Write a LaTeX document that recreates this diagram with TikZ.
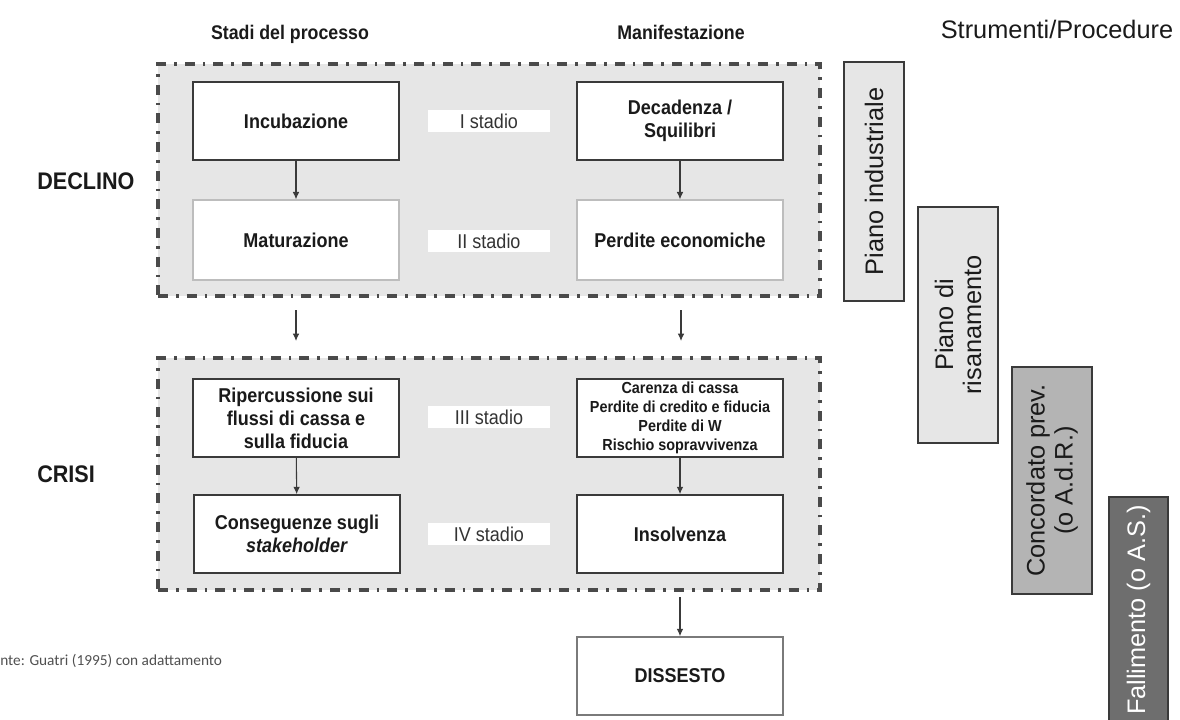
\documentclass[tikz,border=0pt]{standalone}
\usepackage{fontspec}
\setmainfont{Liberation Sans}
\newfontfamily\cond[FakeStretch=0.9]{Liberation Sans}
\newfontfamily\carl{Carlito}
\usetikzlibrary{arrows.meta}
\definecolor{framefill}{HTML}{E6E6E6}
\definecolor{framedraw}{HTML}{4A4A4A}
\definecolor{boxdark}{HTML}{3A3A3A}
\definecolor{boxlight}{HTML}{BDBDBD}
\definecolor{boxmid}{HTML}{7A7A7A}
\definecolor{txt}{HTML}{1A1A1A}
\definecolor{stagetxt}{HTML}{333333}
\definecolor{lightfill}{HTML}{E6E6E6}
\definecolor{midfill}{HTML}{B4B4B4}
\definecolor{darkfill}{HTML}{6E6E6E}
\definecolor{notetxt}{HTML}{505050}
\def\pxu{0.75pt}
\tikzset{
  frame/.style={draw=framedraw, fill=framefill, line width=2.3pt,
    dash pattern=on 7.5pt off 6pt on 2pt off 6pt,
    minimum width=662*\pxu, minimum height=232*\pxu, inner sep=0pt},
  stagebox/.style={draw=boxdark, fill=white, line width=1.3pt, text=txt,
    minimum width=206*\pxu, minimum height=78*\pxu, align=center,
    font=\cond\fontsize{15}{17.25}\selectfont\bfseries, inner sep=1pt},
  lightbox/.style={stagebox, draw=boxlight, line width=1pt},
  midbox/.style={stagebox, draw=boxmid, line width=1.2pt},
  stagelabel/.style={fill=white, text=stagetxt, minimum width=122*\pxu,
    minimum height=22*\pxu, inner sep=0pt, font=\cond\fontsize{15}{17}\selectfont},
  header/.style={text=txt, anchor=base, font=\cond\fontsize{14.8}{17}\selectfont\bfseries},
  phase/.style={text=txt, anchor=base west, inner sep=0pt, font=\cond\fontsize{18}{21}\selectfont\bfseries},
  arr/.style={draw=boxdark, line width=0.8pt, -{Latex[length=5.5pt,width=5pt]}},
  tool/.style={draw=boxdark, line width=1.4pt, rotate=90, align=center, text=txt,
    font=\fontsize{19}{21}\selectfont, inner sep=0pt}
}
\begin{document}
\begin{tikzpicture}[x=0.75pt,y=-0.75pt]
\useasboundingbox (0,0) rectangle (1180,720);

% headers
\node[header] (h1) at (290,39.5) {Stadi del processo};
\node[header] (h2) at (681,39.5) {Manifestazione};
\node[text=txt, anchor=base, font=\fontsize{19}{21}\selectfont] (h3) at (1057,39) {Strumenti/Procedure};

% phases
\node[phase] (declino) at (37,190) {DECLINO};
\node[phase] (crisi) at (37,482) {CRISI};

% frames
\node[frame] (f1) at (489,180) {};
\node[frame] (f2) at (489,474) {};

% stage I-II
\node[stagebox] (inc) at (296,121) {Incubazione};
\node[lightbox, minimum height=80*\pxu] (mat) at (296,240) {Maturazione};
\node[stagebox] (dec) at (680,121) {Decadenza /\\Squilibri};
\node[lightbox, minimum height=80*\pxu] (per) at (680,240) {Perdite economiche};
\node[stagelabel] (s1) at (489,121.5) {I stadio};
\node[stagelabel] (s2) at (489,241) {II stadio};

% stage III-IV
\node[stagebox] (rip) at (296,418) {Ripercussione sui\\flussi di cassa e\\sulla fiducia};
\node[stagebox] (con) at (297,534) {Conseguenze sugli\\\textit{stakeholder}};
\node[stagebox, inner sep=0pt, font=\cond\fontsize{12}{14.25}\selectfont\bfseries] (car) at (680,418)
  {Carenza di cassa\\Perdite di credito e fiducia\\Perdite di W\\Rischio sopravvivenza};
\node[stagebox] (ins) at (680,534) {Insolvenza};
\node[stagelabel] (s3) at (489,417) {III stadio};
\node[stagelabel] (s4) at (489,534) {IV stadio};

% dissesto
\node[midbox] (dis) at (680,676) {DISSESTO};

% arrows
\draw[arr] (inc) -- (mat);
\draw[arr] (dec) -- (per);
\draw[arr] (rip) -- (con);
\draw[arr] (car) -- (ins);
\coordinate (l1) at (296,310);
\coordinate (l2) at (296,341);
\coordinate (r1) at (681,310);
\coordinate (r2) at (681,341);
\coordinate (d1) at (680,597);
\draw[arr] (l1) -- (l2);
\draw[arr] (r1) -- (r2);
\draw[arr] (d1) -- (dis.north);

% tools
\node[tool, fill=lightfill, minimum width=239*\pxu, minimum height=60*\pxu] (t1) at (874,181.5) {Piano industriale};
\node[tool, fill=lightfill, minimum width=236*\pxu, minimum height=80*\pxu] (t2) at (958,325) {Piano di\\risanamento};
\node[tool, fill=midfill, minimum width=227*\pxu, minimum height=80*\pxu] (t3) at (1052,480.5) {Concordato prev.\\(o A.d.R.)};
\node[tool, fill=darkfill, text=white, minimum width=226*\pxu, minimum height=59*\pxu] (t4) at (1138.5,610) {Fallimento (o A.S.)};

% note
\node[anchor=west, text=notetxt, font=\carl\fontsize{11.5}{13}\selectfont, inner sep=0pt] (note) at (0,661) {nte: Guatri (1995) con adattamento};
\end{tikzpicture}
\end{document}
